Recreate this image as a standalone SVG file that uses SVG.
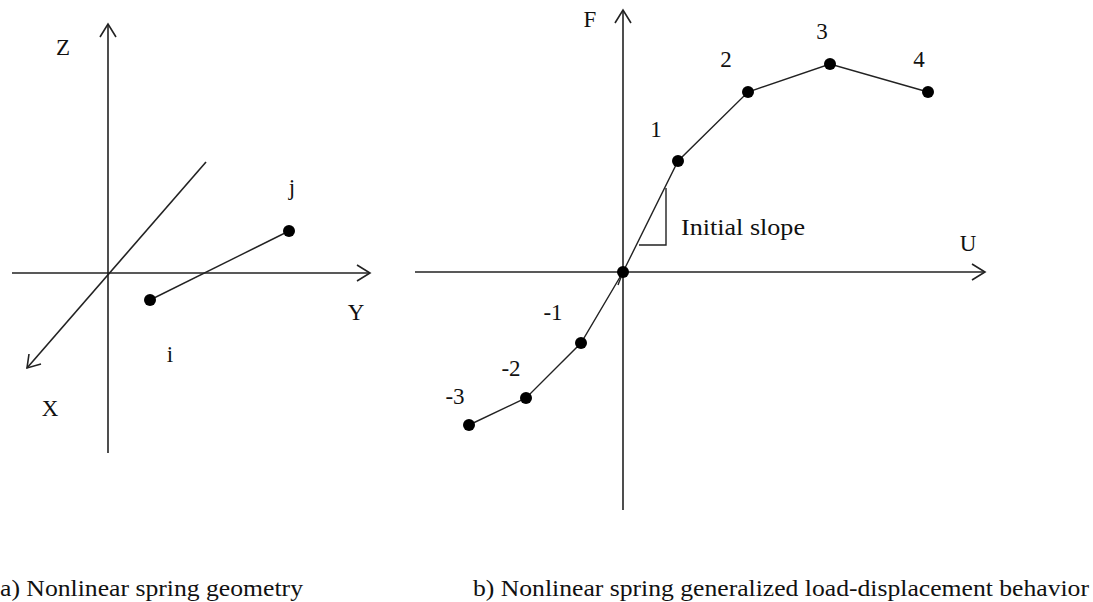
<svg xmlns="http://www.w3.org/2000/svg" width="1093" height="602" viewBox="0 0 1093 602">
<style>
.ax{stroke:#222;stroke-width:1.6;fill:none}
.ln{stroke:#222;stroke-width:1.4;fill:none}
.pt{fill:#000}
text{font-family:"Liberation Serif","Times New Roman",serif;font-size:23px;fill:#111}
.c{text-anchor:middle}
</style>
<rect width="1093" height="602" fill="#fff"/>
<g id="connectors">
<line class="ax" x1="108" y1="453" x2="108" y2="24"/>
<polyline class="ax" points="100,37 108,24 116,37"/>
<line class="ax" x1="12" y1="273" x2="370" y2="273"/>
<polyline class="ax" points="357,265 370,273 357,281"/>
<line class="ax" x1="206" y1="162" x2="27" y2="368"/>
<polyline class="ax" points="29,354 27,368 41,364"/>
<line class="ln" x1="150" y1="300" x2="289" y2="231"/>
<line class="ax" x1="623" y1="510" x2="623" y2="10"/>
<polyline class="ax" points="615,23 623,10 631,23"/>
<line class="ax" x1="415" y1="272" x2="985" y2="272"/>
<polyline class="ax" points="972,264 985,272 972,280"/>
<polyline class="ln" points="469,425 526,398 581,343 623,272 678,161 748,92 830,64 928,92"/>
<line class="ln" x1="618" y1="285" x2="623" y2="272"/>
<polyline class="ln" points="666,188 666,245 639,245"/>
</g>
<g id="node-i"><circle class="pt" cx="150" cy="300" r="6"/><text class="c" x="170" y="362">i</text></g>
<g id="node-j"><circle class="pt" cx="289" cy="231" r="6"/><text class="c" x="292" y="195">j</text></g>
<g id="label-z"><text class="c" x="63" y="55">Z</text></g>
<g id="label-y"><text class="c" x="356" y="320">Y</text></g>
<g id="label-x"><text class="c" x="50" y="416">X</text></g>
<g id="node-0"><circle class="pt" cx="623" cy="272" r="6"/></g>
<g id="node-1"><circle class="pt" cx="678" cy="161" r="6"/><text class="c" x="656" y="137">1</text></g>
<g id="node-2"><circle class="pt" cx="748" cy="92" r="6"/><text class="c" x="726" y="67">2</text></g>
<g id="node-3"><circle class="pt" cx="830" cy="64" r="6"/><text class="c" x="822" y="39">3</text></g>
<g id="node-4"><circle class="pt" cx="928" cy="92" r="6"/><text class="c" x="919" y="67">4</text></g>
<g id="node-m1"><circle class="pt" cx="581" cy="343" r="6"/><text class="c" x="553" y="320">-1</text></g>
<g id="node-m2"><circle class="pt" cx="526" cy="398" r="6"/><text class="c" x="511" y="376">-2</text></g>
<g id="node-m3"><circle class="pt" cx="469" cy="425" r="6"/><text class="c" x="455" y="404">-3</text></g>
<g id="label-f"><text class="c" x="590" y="27">F</text></g>
<g id="label-u"><text class="c" x="968" y="251">U</text></g>
<g id="label-slope"><text x="681" y="235" textLength="124" lengthAdjust="spacingAndGlyphs">Initial slope</text></g>
<g id="captions">
<text x="0" y="596" textLength="303" lengthAdjust="spacingAndGlyphs">a) Nonlinear spring geometry</text>
<text x="473" y="596" textLength="616" lengthAdjust="spacingAndGlyphs">b) Nonlinear spring generalized load-displacement behavior</text>
</g>
</svg>
